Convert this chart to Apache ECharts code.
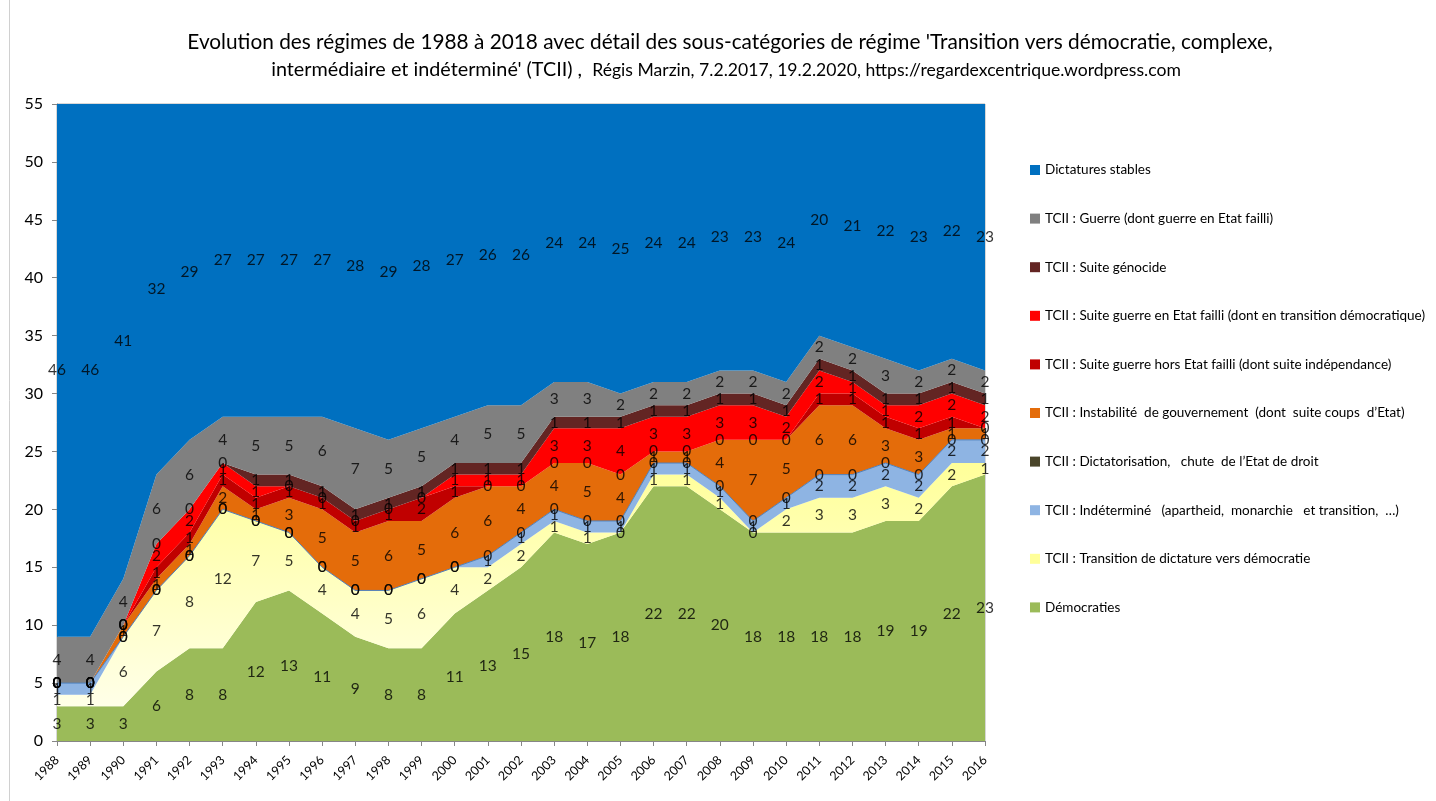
<!DOCTYPE html>
<html>
<head>
<meta charset="utf-8">
<script src="https://cdn.jsdelivr.net/npm/echarts@6/dist/echarts.min.js"></script>
<style>
html,body{margin:0;padding:0;background:#fff;}
#chart{width:1436px;height:801px;}
</style>
</head>
<body>
<div id="chart"></div>
<script>
const years = ['1988','1989','1990','1991','1992','1993','1994','1995','1996','1997','1998','1999','2000','2001','2002','2003','2004','2005','2006','2007','2008','2009','2010','2011','2012','2013','2014','2015','2016'];
const yTicks = [0,5,10,15,20,25,30,35,40,45,50,55];

const democraties     = [3,3,3,6,8,8,12,13,11,9,8,8,11,13,15,18,17,18,22,22,20,18,18,18,18,19,19,22,23];
const transition      = [1,1,6,7,8,12,7,5,4,4,5,6,4,2,2,1,1,0,1,1,1,0,2,3,3,3,2,2,1];
const indetermine     = [1,1,0,0,0,0,0,0,0,0,0,0,0,1,1,1,1,1,1,1,1,1,1,2,2,2,2,2,2];
const dictatorisation = [0,0,0,0,0,0,0,0,0,0,0,0,0,0,0,0,0,0,0,0,0,0,0,0,0,0,0,0,0];
const instabilite     = [0,0,1,1,1,2,1,3,5,5,6,5,6,6,4,4,5,4,1,1,4,7,5,6,6,3,3,1,1];
const guerreHors      = [0,0,0,1,1,1,1,1,1,1,1,2,1,0,0,0,0,0,0,0,0,0,0,1,1,1,1,1,0];
const guerreFailli    = [0,0,0,2,2,1,1,0,0,0,0,0,1,1,1,3,3,4,3,3,3,3,2,2,1,1,2,2,2];
const genocide        = [0,0,0,0,0,0,1,1,1,1,1,1,1,1,1,1,1,1,1,1,1,1,1,1,1,1,1,1,1];
const guerre          = [4,4,4,6,6,4,5,5,6,7,5,5,4,5,5,3,3,2,2,2,2,2,2,2,2,3,2,2,2];
const dictatures      = [46,46,41,32,29,27,27,27,27,28,29,28,27,26,26,24,24,25,24,24,23,23,24,20,21,22,23,22,23];

const names = {
  dem: 'Démocraties',
  tra: 'TCII : Transition de dictature vers démocratie',
  ind: 'TCII : Indéterminé   (apartheid,  monarchie   et transition,  …)',
  dic: 'TCII : Dictatorisation,   chute  de l’Etat de droit',
  ins: 'TCII : Instabilité  de gouvernement  (dont  suite coups  d’Etat)',
  hor: 'TCII : Suite guerre hors Etat failli (dont suite indépendance)',
  fai: 'TCII : Suite guerre en Etat failli (dont en transition démocratique)',
  gen: 'TCII : Suite génocide',
  gue: 'TCII : Guerre (dont guerre en Etat failli)',
  sta: 'Dictatures stables'
};

const stackDefs = [
  {key:'dem', data:democraties, color:'#9BBB59'},
  {key:'tra', data:transition, color:'#FFFF99', gradient:true},
  {key:'ind', data:indetermine, color:'#8EB4E3', line:'#4F81BD'},
  {key:'dic', data:dictatorisation, color:'#4A452A'},
  {key:'ins', data:instabilite, color:'#E46C0A'},
  {key:'hor', data:guerreHors, color:'#C00000'},
  {key:'fai', data:guerreFailli, color:'#FF0000'},
  {key:'gen', data:genocide, color:'#632523'},
  {key:'gue', data:guerre, color:'#808080'},
  {key:'sta', data:dictatures, color:'#0070C0'}
];

const FONT = 'Lato, Carlito, "Open Sans", sans-serif';
const series = [];
const cum = years.map(() => 0);
stackDefs.forEach((d) => {
  const area = d.gradient
    ? {color: new echarts.graphic.LinearGradient(0,0,0,1,[{offset:0,color:'#FFFF99'},{offset:1,color:'#FFFFE8'}]), opacity:1}
    : {color: d.color, opacity:1};
  series.push({
    name: names[d.key], type:'line', stack:'total', data:d.data,
    symbol:'none', showSymbol:false, smooth:false,
    itemStyle:{color:d.color},
    lineStyle: d.line ? {color:d.line, width:1} : {width:0, color:d.color},
    areaStyle: area,
    emphasis:{disabled:true}, silent:true, z: 2
  });
  const lbl = d.data.map((v, i) => [i, cum[i] + v / 2, v]);
  d.data.forEach((v, i) => { cum[i] += v; });
  series.push({
    name: 'lbl_' + d.key, type:'scatter', data: lbl, symbolSize:0, z: 10,
    silent:true, clip:false,
    label:{show:true, position:'inside', formatter:p => String(p.value[2]),
      color:'#000', fontFamily:FONT, fontSize:15.5}
  });
});

const legendOrder = ['sta','gue','gen','fai','hor','ins','dic','ind','tra','dem'].map(k => names[k]);

const chart = echarts.init(document.getElementById('chart'), null, {renderer:'canvas'});
chart.setOption({
  backgroundColor:'#fff',
  animation:false,
  graphic:[
    {type:'rect', silent:true, shape:{x:9.5,y:-5,width:1500,height:900}, style:{fill:'none', stroke:'#d0d0d0', lineWidth:1}},
    {type:'text', x:730, y:42, style:{text:"Evolution des régimes de 1988 à 2018 avec détail des sous-catégories de régime 'Transition vers démocratie, complexe,",
      font:'20.8px ' + FONT, fill:'#000', textAlign:'center', textVerticalAlign:'middle'}},
    {type:'text', x:726, y:70, style:{text:"{a|intermédiaire et indéterminé' (TCII) ,  }{b|Régis Marzin, 7.2.2017, 19.2.2020, https://regardexcentrique.wordpress.com}",
      textAlign:'center', textVerticalAlign:'middle',
      rich:{a:{fontSize:19.8, fontFamily:FONT, fill:'#000'}, b:{fontSize:17.6, fontFamily:FONT, fill:'#000'}}}}
  ],
  grid:{left:57, right:451, top:104, bottom:60, show:true, borderColor:'#b0b0b0', borderWidth:1, backgroundColor:'transparent'},
  legend:{
    data: legendOrder, orient:'vertical', left:1025, top:158, icon:'rect',
    itemWidth:10, itemHeight:10, itemGap:34.6, selectedMode:false,
    textStyle:{fontFamily:FONT, fontSize:13.5, color:'#000', lineHeight:14}
  },
  xAxis:{
    type:'category', data:years, boundaryGap:false,
    axisLine:{lineStyle:{color:'#868686'}},
    axisTick:{show:true, alignWithLabel:true, length:5, lineStyle:{color:'#868686'}},
    axisLabel:{rotate:45, fontFamily:FONT, fontSize:12.5, color:'#000', margin:17, interval:0},
    splitLine:{show:false}
  },
  yAxis:{
    type:'value', min:yTicks[0], max:yTicks[yTicks.length-1], interval:5,
    axisLine:{show:true, lineStyle:{color:'#868686'}},
    axisTick:{show:true, length:5, lineStyle:{color:'#868686'}},
    axisLabel:{fontFamily:FONT, fontSize:16, color:'#000', margin:14},
    splitLine:{show:false}
  },
  series: series
});
</script>
</body>
</html>
